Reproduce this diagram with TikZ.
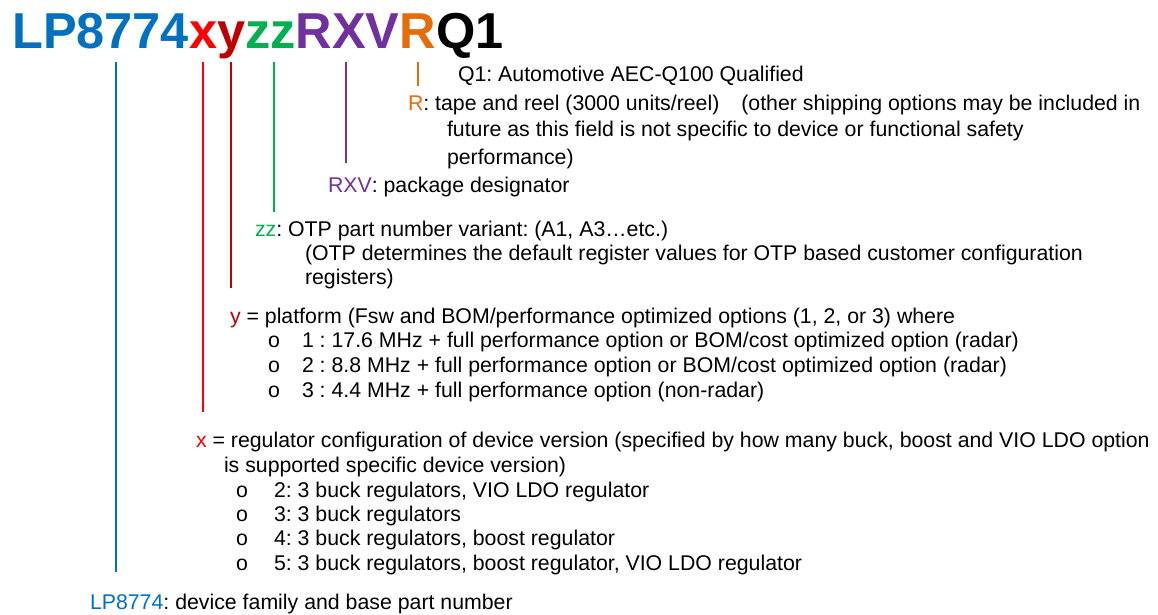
\documentclass[tikz,border=0pt]{standalone}
\usepackage{fontspec}
\setmainfont{Liberation Sans}
\frenchspacing
\definecolor{cblue}{HTML}{0070C0}
\definecolor{cred}{HTML}{FF0000}
\definecolor{cdred}{HTML}{C00000}
\definecolor{cgreen}{HTML}{00B050}
\definecolor{cpurple}{HTML}{7030A0}
\definecolor{corange}{HTML}{E46C0A}
\definecolor{ctext}{HTML}{000000}
\tikzset{
  body/.style={anchor=base west, inner sep=0pt, outer sep=0pt, text=ctext, font=\fontsize{21.3}{25}\selectfont\frenchspacing},
  title/.style={anchor=base west, inner sep=0pt, font=\fontsize{50.5}{55}\selectfont\bfseries},
  tick/.style={line width=2.4pt}
}
\begin{document}
\begin{tikzpicture}[x=1pt,y=-1pt]
\useasboundingbox (0,0) rectangle (1158,614);
\node[title] (ttl) at (12,48) {\textcolor{cblue}{LP8774}\textcolor{cred}{x}\textcolor{cdred}{y}\textcolor{cgreen}{zz}\textcolor{cpurple}{RXV}\textcolor{corange}{R}\textcolor{black}{Q1}};
% leader lines
\coordinate (b1) at (116,62); \coordinate (b2) at (116,572);
\coordinate (x1) at (203,62); \coordinate (x2) at (203,412);
\coordinate (y1) at (231,62); \coordinate (y2) at (231,288);
\coordinate (z1) at (274,62); \coordinate (z2) at (274,212);
\coordinate (p1) at (346,62); \coordinate (p2) at (346,163);
\coordinate (r1) at (418,62); \coordinate (r2) at (418,86);
\draw[tick,cblue] (b1) -- (b2);
\draw[tick,cred] (x1) -- (x2);
\draw[tick,cdred] (y1) -- (y2);
\draw[tick,cgreen] (z1) -- (z2);
\draw[tick,cpurple] (p1) -- (p2);
\draw[tick,corange] (r1) -- (r2);
% texts
\node[body] (q1) at (458,81.6) {Q1: Automotive AEC-Q100 Qualified};
\node[body] (r) at (408,110.6) {\textcolor{corange}{R}: tape and reel (3000 units/reel)\hspace{22pt}(other shipping options may be included in};
\node[body] (r2t) at (447,136.6) {future as this field is not specific to device or functional safety};
\node[body] (r3t) at (447,164.6) {performance)};
\node[body] (rxv) at (328,192.6) {\textcolor{cpurple}{RXV}: package designator};
\node[body] (zz) at (255,236.6) {\textcolor{cgreen}{zz}: OTP part number variant: (A1, A3…etc.)};
\node[body] (zz2) at (305,260.6) {(OTP determines the default register values for OTP based customer configuration};
\node[body] (zz3) at (305,284.6) {registers)};
\node[body] (y) at (230,323.6) {\textcolor{cdred}{y} = platform (Fsw and BOM/performance optimized options (1, 2, or 3) where};
\node[body] (yo1) at (268,347.6) {o}; \node[body] (y1t) at (302,347.6) {1 : 17.6 MHz + full performance option or BOM/cost optimized option (radar)};
\node[body] (yo2) at (268,372.6) {o}; \node[body] (y2t) at (302,372.6) {2 : 8.8 MHz + full performance option or BOM/cost optimized option (radar)};
\node[body] (yo3) at (268,397.6) {o}; \node[body] (y3t) at (302,397.6) {3 : 4.4 MHz + full performance option (non-radar)};
\node[body] (x) at (196,447.6) {\textcolor{cred}{x} = regulator configuration of device version (specified by how many buck, boost and VIO LDO option};
\node[body] (xb) at (224,472.6) {is supported specific device version)};
\node[body] (xo1) at (236,497.6) {o}; \node[body] (x1t) at (274,497.6) {2: 3 buck regulators, VIO LDO regulator};
\node[body] (xo2) at (236,521.6) {o}; \node[body] (x2t) at (274,521.6) {3: 3 buck regulators};
\node[body] (xo3) at (236,545.6) {o}; \node[body] (x3t) at (274,545.6) {4: 3 buck regulators, boost regulator};
\node[body] (xo4) at (236,570.6) {o}; \node[body] (x4t) at (274,570.6) {5: 3 buck regulators, boost regulator, VIO LDO regulator};
\node[body] (lp) at (90,609.6) {\textcolor{cblue}{LP8774}: device family and base part number};
\end{tikzpicture}
\end{document}
